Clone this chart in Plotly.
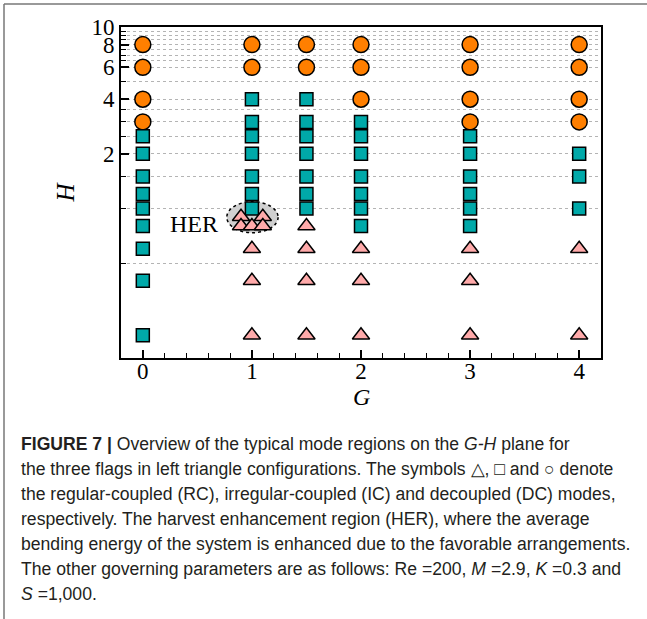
import numpy as np
import plotly.graph_objects as go

# Mode map on the G-H plane (three flags, left triangle arrangement)

# Regular-coupled (RC) cases - the first five form the HER cluster around G = 1
rc_g = [0.9, 1.1, 0.9, 1.0, 1.1,
        1, 1, 1,
        1.5, 1.5, 1.5, 1.5,
        2, 2, 2,
        3, 3, 3,
        4, 4]
rc_h = [0.9, 0.9, 0.8, 0.8, 0.8,
        0.6, 0.4, 0.2,
        0.8, 0.6, 0.4, 0.2,
        0.6, 0.4, 0.2,
        0.6, 0.4, 0.2,
        0.6, 0.2]

# Irregular-coupled (IC) cases
ic_g = [0, 0, 0, 0, 0, 0, 0, 0, 0,
        1, 1, 1, 1, 1, 1, 1,
        1.5, 1.5, 1.5, 1.5, 1.5, 1.5, 1.5,
        2, 2, 2, 2, 2, 2, 2,
        3, 3, 3, 3, 3, 3,
        4, 4, 4]
ic_h = [2.5, 2, 1.5, 1.2, 1.0, 0.8, 0.6, 0.4, 0.2,
        4, 3, 2.5, 2, 1.5, 1.2, 1.0,
        4, 3, 2.5, 2, 1.5, 1.2, 1.0,
        3, 2.5, 2, 1.5, 1.2, 1.0, 0.8,
        2.5, 2, 1.5, 1.2, 1.0, 0.8,
        2, 1.5, 1.0]

# Decoupled (DC) cases
dc_g = [0, 0, 0, 0, 1, 1, 1.5, 1.5, 2, 2, 2, 3, 3, 3, 3, 4, 4, 4, 4]
dc_h = [8, 6, 4, 3, 8, 6, 8, 6, 8, 6, 4, 8, 6, 4, 3, 8, 6, 4, 3]

# Harvest enhancement region outline (G and H extents)
her_g = [0.77, 1.24]
her_h = [0.735, 1.09]

# Axis ticks
x_ticks = [0, 1, 2, 3, 4]
x_minor = [-0.2, 0.2, 0.4, 0.6, 0.8, 1.2, 1.4, 1.6, 1.8, 2.2, 2.4, 2.6, 2.8,
           3.2, 3.4, 3.6, 3.8, 4.2]
y_ticks = [2, 4, 6, 8, 10]
y_ticktext = ["2", "4", "6", "8", "10"]
y_minor = [0.5, 1, 1.5, 2.5, 3, 3.5, 5, 6.5, 7, 7.5, 8.5, 9, 9.5]

caption_lines = [
    "<b>FIGURE 7 |</b> Overview of the typical mode regions on the <i>G-H</i> plane for",
    "the three flags in left triangle configurations. The symbols △, □ and ○ denote",
    "the regular-coupled (RC), irregular-coupled (IC) and decoupled (DC) modes,",
    "respectively. The harvest enhancement region (HER), where the average",
    "bending energy of the system is enhanced due to the favorable arrangements.",
    "The other governing parameters are as follows: Re =200, <i>M</i> =2.9, <i>K</i> =0.3 and",
    "<i>S</i> =1,000.",
]

W, H = 647, 619
ML, MR, MT, MB = 121, 46, 27, 261
PW, PH = W - ML - MR, H - MT - MB


def px_x(px):
    return (px - ML) / PW


def px_y(py):
    return 1 - (py - MT) / PH


SERIF = "Liberation Serif"
SANS = "Liberation Sans"

fig = go.Figure()

fig.add_trace(go.Scatter(
    x=dc_g, y=dc_h, mode="markers", name="DC",
    marker=dict(symbol="circle", size=16, color="#FF7F00",
                line=dict(color="black", width=1.5)),
))
fig.add_trace(go.Scatter(
    x=ic_g, y=ic_h, mode="markers", name="IC",
    marker=dict(symbol="square", size=13, color="#00A9A9",
                line=dict(color="black", width=1.5)),
))
fig.add_trace(go.Scatter(
    x=rc_g, y=rc_h, mode="markers", name="RC",
    marker=dict(symbol="triangle-up", size=15, color="#FFAAAA",
                line=dict(color="black", width=1.5)),
))

# HER ellipse
fig.add_shape(type="circle", xref="x", yref="y",
              x0=her_g[0], x1=her_g[1], y0=her_h[0], y1=her_h[1],
              fillcolor="#D0D0D0", line=dict(color="black", width=1.5, dash="dot"),
              layer="between")
fig.add_annotation(x=0.71, y=np.log10(0.82), xref="x", yref="y",
                   text="HER", showarrow=False, xanchor="right", yanchor="middle",
                   font=dict(family=SERIF, size=24, color="black"))

# Axis titles
fig.add_annotation(x=0.5, y=px_y(397), xref="paper", yref="paper",
                   text="<i>G</i>", showarrow=False, xanchor="center", yanchor="middle",
                   font=dict(family=SERIF, size=24, color="black"))
fig.add_annotation(x=px_x(65), y=0.5, xref="paper", yref="paper",
                   text="<i>H</i>", showarrow=False, xanchor="center", yanchor="middle",
                   textangle=-90,
                   font=dict(family=SERIF, size=25, color="black"))

# Figure frame (top and left edges)
fig.add_shape(type="line", xref="paper", yref="paper",
              x0=px_x(4), x1=px_x(W), y0=px_y(4), y1=px_y(4),
              line=dict(color="#777777", width=1.5))
fig.add_shape(type="line", xref="paper", yref="paper",
              x0=px_x(4), x1=px_x(4), y0=px_y(4), y1=px_y(H),
              line=dict(color="#777777", width=1.5))

# Caption
for i, line in enumerate(caption_lines):
    fig.add_annotation(x=px_x(19), y=px_y(444 + 25 * i), xref="paper", yref="paper",
                       text=line, showarrow=False, xanchor="left", yanchor="middle",
                       align="left",
                       font=dict(family=SANS, size=17.6, color="#231F20"))

fig.update_xaxes(
    range=[-0.2, 4.2], tickmode="array", tickvals=x_ticks,
    ticks="inside", ticklen=8, tickwidth=1.5, tickcolor="black",
    showline=True, linewidth=2, linecolor="black", mirror=True,
    showgrid=False, zeroline=False,
    minor=dict(tickvals=x_minor, ticks="inside", ticklen=5, tickwidth=1.2,
               tickcolor="black", showgrid=False),
    tickfont=dict(family=SERIF, size=23, color="black"),
    ticklabelstandoff=-9,
)
fig.update_yaxes(
    type="log", range=[np.log10(0.15), 1],
    tickmode="array", tickvals=y_ticks, ticktext=y_ticktext,
    ticks="inside", ticklen=8, tickwidth=1.5, tickcolor="black",
    showline=True, linewidth=2, linecolor="black", mirror=True,
    showgrid=True, gridcolor="#B4B4B4", griddash="dot", gridwidth=1,
    zeroline=False,
    minor=dict(tickvals=y_minor, ticks="inside", ticklen=5, tickwidth=1.2,
               tickcolor="black", showgrid=True, gridcolor="#B4B4B4",
               griddash="dot", gridwidth=1),
    tickfont=dict(family=SERIF, size=23, color="black"),
    ticklabelstandoff=0,
)

fig.update_layout(
    width=W, height=H,
    margin=dict(l=ML, r=MR, t=MT, b=MB, pad=0),
    paper_bgcolor="white", plot_bgcolor="white",
    showlegend=False,
)

fig.write_html("out.html")
